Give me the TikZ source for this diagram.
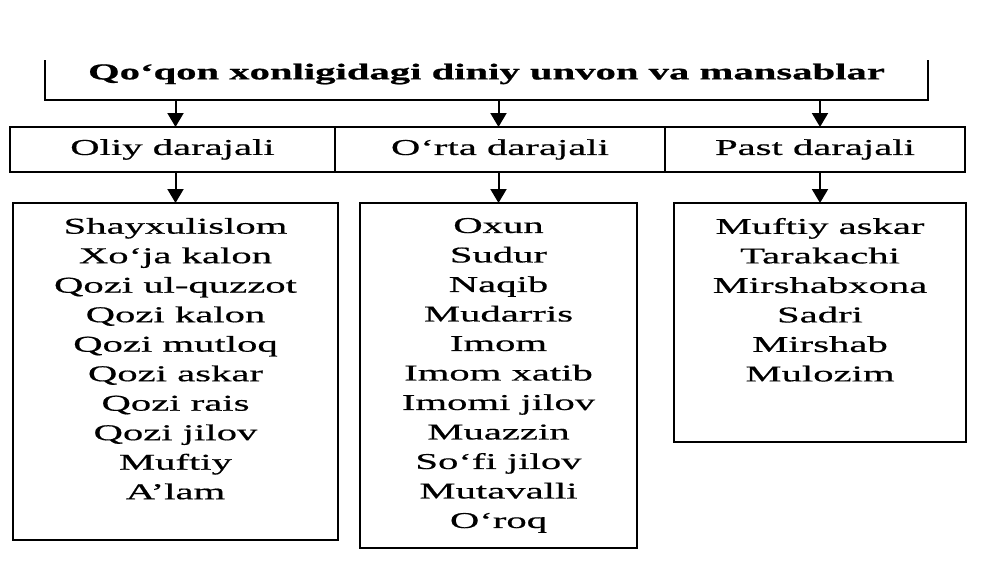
\documentclass[tikz,border=0pt]{standalone}
\usepackage{fontspec}
\setmainfont[FakeStretch=1.8, UprightFeatures={FakeBold=0.6}, BoldFeatures={FakeBold=0.8}]{Liberation Serif}
\usetikzlibrary{arrows.meta}

\begin{document}
\begin{tikzpicture}[x=0.5pt, y=-0.5pt]
    \def\fs{\fontsize{11.3}{14.75}\selectfont}

    \tikzset{
        frame/.style={draw, line width=1pt, inner sep=0pt, outer sep=0pt},
        level/.style={frame, minimum height=22.5pt, align=center, font=\fs},
        list/.style={frame},
        items/.style={inner sep=0pt, anchor=north, align=center, font=\fs},
        arr/.style={line width=1pt, -{Triangle[length=7pt, width=8pt]}}
    }

    \useasboundingbox (0,0) rectangle (1000,562);

    % title
    \node[inner sep=0pt, outer sep=0pt, minimum width=441.5pt, minimum height=20pt] (title) at (486.5,80) {};
    \node[font=\fs\bfseries] (titletext) at ([yshift=3pt]title.center) {Qo‘qon xonligidagi diniy unvon va mansablar};
    \draw[line width=1pt] (title.north west) -- (title.south west) -- (title.south east) -- (title.north east);

    % levels
    \node[level, minimum width=162.5pt] (oliy) at (172.5,149.5) {Oliy darajali};
    \node[level, minimum width=165pt]   (orta) at (500,149.5)   {O‘rta darajali};
    \node[level, minimum width=150pt]   (past) at (815,149.5)   {Past darajali};

    % lists
    \node[list, minimum width=162.5pt, minimum height=168.5pt] (list1) at (175.5,371.5) {};
    \node[list, minimum width=138.5pt, minimum height=172.5pt] (list2) at (498.5,375.5) {};
    \node[list, minimum width=146pt,   minimum height=119.5pt] (list3) at (820,322.5)   {};

    \node[items] (items1) at ([yshift=-7.3pt]list1.north) {Shayxulislom\\Xo‘ja kalon\\Qozi ul-quzzot\\Qozi kalon\\Qozi mutloq\\Qozi askar\\Qozi rais\\Qozi jilov\\Muftiy\\A’lam};
    \node[items] (items2) at ([yshift=-7.3pt]list2.north) {Oxun\\Sudur\\Naqib\\Mudarris\\Imom\\Imom xatib\\Imomi jilov\\Muazzin\\So‘fi jilov\\Mutavalli\\O‘roq};
    \node[items] (items3) at ([yshift=-7.3pt]list3.north) {Muftiy askar\\Tarakachi\\Mirshabxona\\Sadri\\Mirshab\\Mulozim};

    % arrows
    \foreach \lv/\ls in {oliy/list1, orta/list2, past/list3} {
        \draw[arr] (title.south -| \ls.north) -- (\lv.north -| \ls.north);
        \draw[arr] (\lv.south -| \ls.north) -- (\ls.north);
    }

\end{tikzpicture}
\end{document}
